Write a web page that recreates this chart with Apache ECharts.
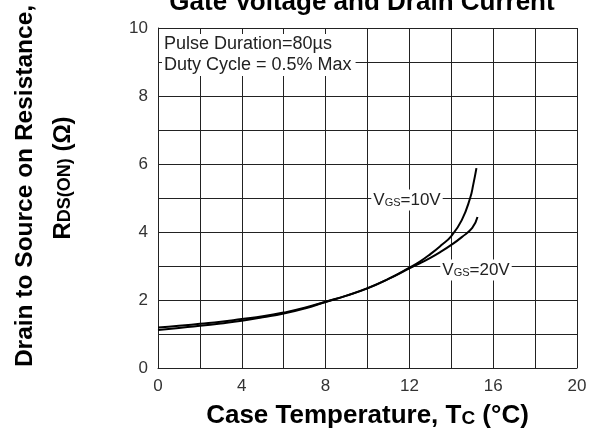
<!DOCTYPE html>
<html>
<head>
<meta charset="utf-8">
<script src="https://cdn.jsdelivr.net/npm/echarts@6/dist/echarts.min.js"></script>
<style>
  html, body { margin: 0; padding: 0; background: #fff; }
  #chart { width: 594px; height: 428px; }
</style>
</head>
<body>
<div id="chart"></div>
<script>
// case temperature samples (x) and resistance for each gate voltage
const temps10 = [0, 1, 2, 3, 4, 5, 6, 7, 8, 9, 10, 11, 12, 12.5, 13, 13.5, 14, 14.5, 14.9, 15.05, 15.2];
const rds10 = [1.19, 1.24, 1.30, 1.36, 1.44, 1.52, 1.63, 1.77, 1.95, 2.13, 2.34, 2.62, 2.95, 3.13, 3.35, 3.6, 3.88, 4.35, 5.0, 5.4, 5.88];
const temps20 = [0, 1, 2, 3, 4, 5, 6, 7, 8, 9, 10, 11, 12, 12.5, 13, 13.5, 14, 14.5, 15, 15.25];
const rds20 = [1.12, 1.18, 1.24, 1.31, 1.39, 1.49, 1.60, 1.75, 1.94, 2.13, 2.35, 2.62, 2.93, 3.08, 3.24, 3.42, 3.62, 3.85, 4.12, 4.44];
const xTicks = [0, 4, 8, 12, 16, 20];
const yTicks = [0, 2, 4, 6, 8, 10];

const lineColor = '#000';
const gridColor = '#222';
const labelFont = 'Liberation Sans, Arial, sans-serif';

function pairs(xs, ys) {
    return xs.map((x, i) => [x, ys[i]]);
}

const chart = echarts.init(document.getElementById('chart'), null, { renderer: 'canvas' });

// VGS label style, GS is set smaller
const vgsRich = {
    v: { font: '17px ' + labelFont, fill: '#222', verticalAlign: 'bottom' },
    s: { font: '11px ' + labelFont, fill: '#222', verticalAlign: 'bottom' }
};

const option = {
    animation: false,
    backgroundColor: '#fff',
    grid: { left: 158, right: 17, top: 28, bottom: 60, containLabel: false, outerBoundsMode: 'none' },
    xAxis: {
        type: 'value',
        min: 0,
        max: 20,
        interval: 2,
        axisLine: { show: true, lineStyle: { color: gridColor, width: 1 } },
        axisTick: { show: false },
        splitLine: { show: true, lineStyle: { color: gridColor, width: 1 } },
        axisLabel: {
            margin: 10,
            color: '#333',
            fontSize: 17,
            fontFamily: labelFont,
            formatter: v => (xTicks.includes(v) ? String(v) : '')
        },
        name: 'Case Temperature, T{c|C} (°C)',
        nameLocation: 'middle',
        nameGap: 35,
        nameTextStyle: {
            fontSize: 26,
            fontWeight: 'bold',
            color: '#000',
            fontFamily: labelFont,
            rich: {
                c: { fontSize: 19, fontWeight: 'bold', color: '#000', fontFamily: labelFont, verticalAlign: 'bottom', padding: [0, 0, 1, 0] }
            }
        }
    },
    yAxis: {
        type: 'value',
        min: 0,
        max: 10,
        interval: 1,
        axisLine: { show: true, lineStyle: { color: gridColor, width: 1 } },
        axisTick: { show: false },
        splitLine: { show: true, lineStyle: { color: gridColor, width: 1 } },
        axisLabel: {
            margin: 10,
            color: '#333',
            fontSize: 17,
            fontFamily: labelFont,
            formatter: v => (yTicks.includes(v) ? String(v) : '')
        }
    },
    series: [
        {
            name: 'VGS=10V',
            type: 'line',
            smooth: true,
            showSymbol: false,
            data: pairs(temps10, rds10),
            lineStyle: { color: lineColor, width: 2 },
            z: 3
        },
        {
            name: 'VGS=20V',
            type: 'line',
            smooth: true,
            showSymbol: false,
            data: pairs(temps20, rds20),
            lineStyle: { color: lineColor, width: 2 },
            z: 3
        }
    ],
    graphic: [
        // chart title, mostly cut off at the top
        {
            type: 'text',
            x: 362,
            y: 3,
            style: {
                text: 'Gate Voltage and Drain Current',
                font: 'bold 26px ' + labelFont,
                fill: '#000',
                align: 'center',
                verticalAlign: 'middle'
            }
        },
        // y axis title, two rotated lines
        {
            type: 'text',
            x: 25,
            y: 186,
            rotation: Math.PI / 2,
            style: {
                text: 'Drain to Source on Resistance,',
                font: 'bold 24.5px ' + labelFont,
                fill: '#000',
                align: 'center',
                verticalAlign: 'middle'
            }
        },
        {
            type: 'text',
            x: 63,
            y: 178,
            rotation: Math.PI / 2,
            style: {
                text: '{r|R}{s|DS(ON)}{r| (Ω)}',
                align: 'center',
                verticalAlign: 'middle',
                rich: {
                    r: { font: 'bold 24px ' + labelFont, fill: '#000', verticalAlign: 'bottom' },
                    s: { font: 'bold 18px ' + labelFont, fill: '#000', verticalAlign: 'bottom', padding: [0, 0, 1, 0] }
                }
            }
        },
        // test conditions box
        {
            type: 'text',
            x: 162,
            y: 34,
            z: 10,
            style: {
                text: 'Pulse Duration=80µs\nDuty Cycle = 0.5% Max',
                font: '18px ' + labelFont,
                fill: '#222',
                lineHeight: 21,
                backgroundColor: '#fff',
                padding: [0, 4, 0, 2]
            }
        },
        // curve labels
        {
            type: 'text',
            x: 407,
            y: 200,
            z: 10,
            style: {
                text: '{v|V}{s|GS}{v|=10V}',
                align: 'center',
                verticalAlign: 'middle',
                backgroundColor: '#fff',
                padding: [2, 2, 2, 2],
                rich: vgsRich
            }
        },
        {
            type: 'text',
            x: 476,
            y: 270,
            z: 10,
            style: {
                text: '{v|V}{s|GS}{v|=20V}',
                align: 'center',
                verticalAlign: 'middle',
                backgroundColor: '#fff',
                padding: [2, 2, 2, 2],
                rich: vgsRich
            }
        }
    ]
};

chart.setOption(option);
</script>
</body>
</html>
